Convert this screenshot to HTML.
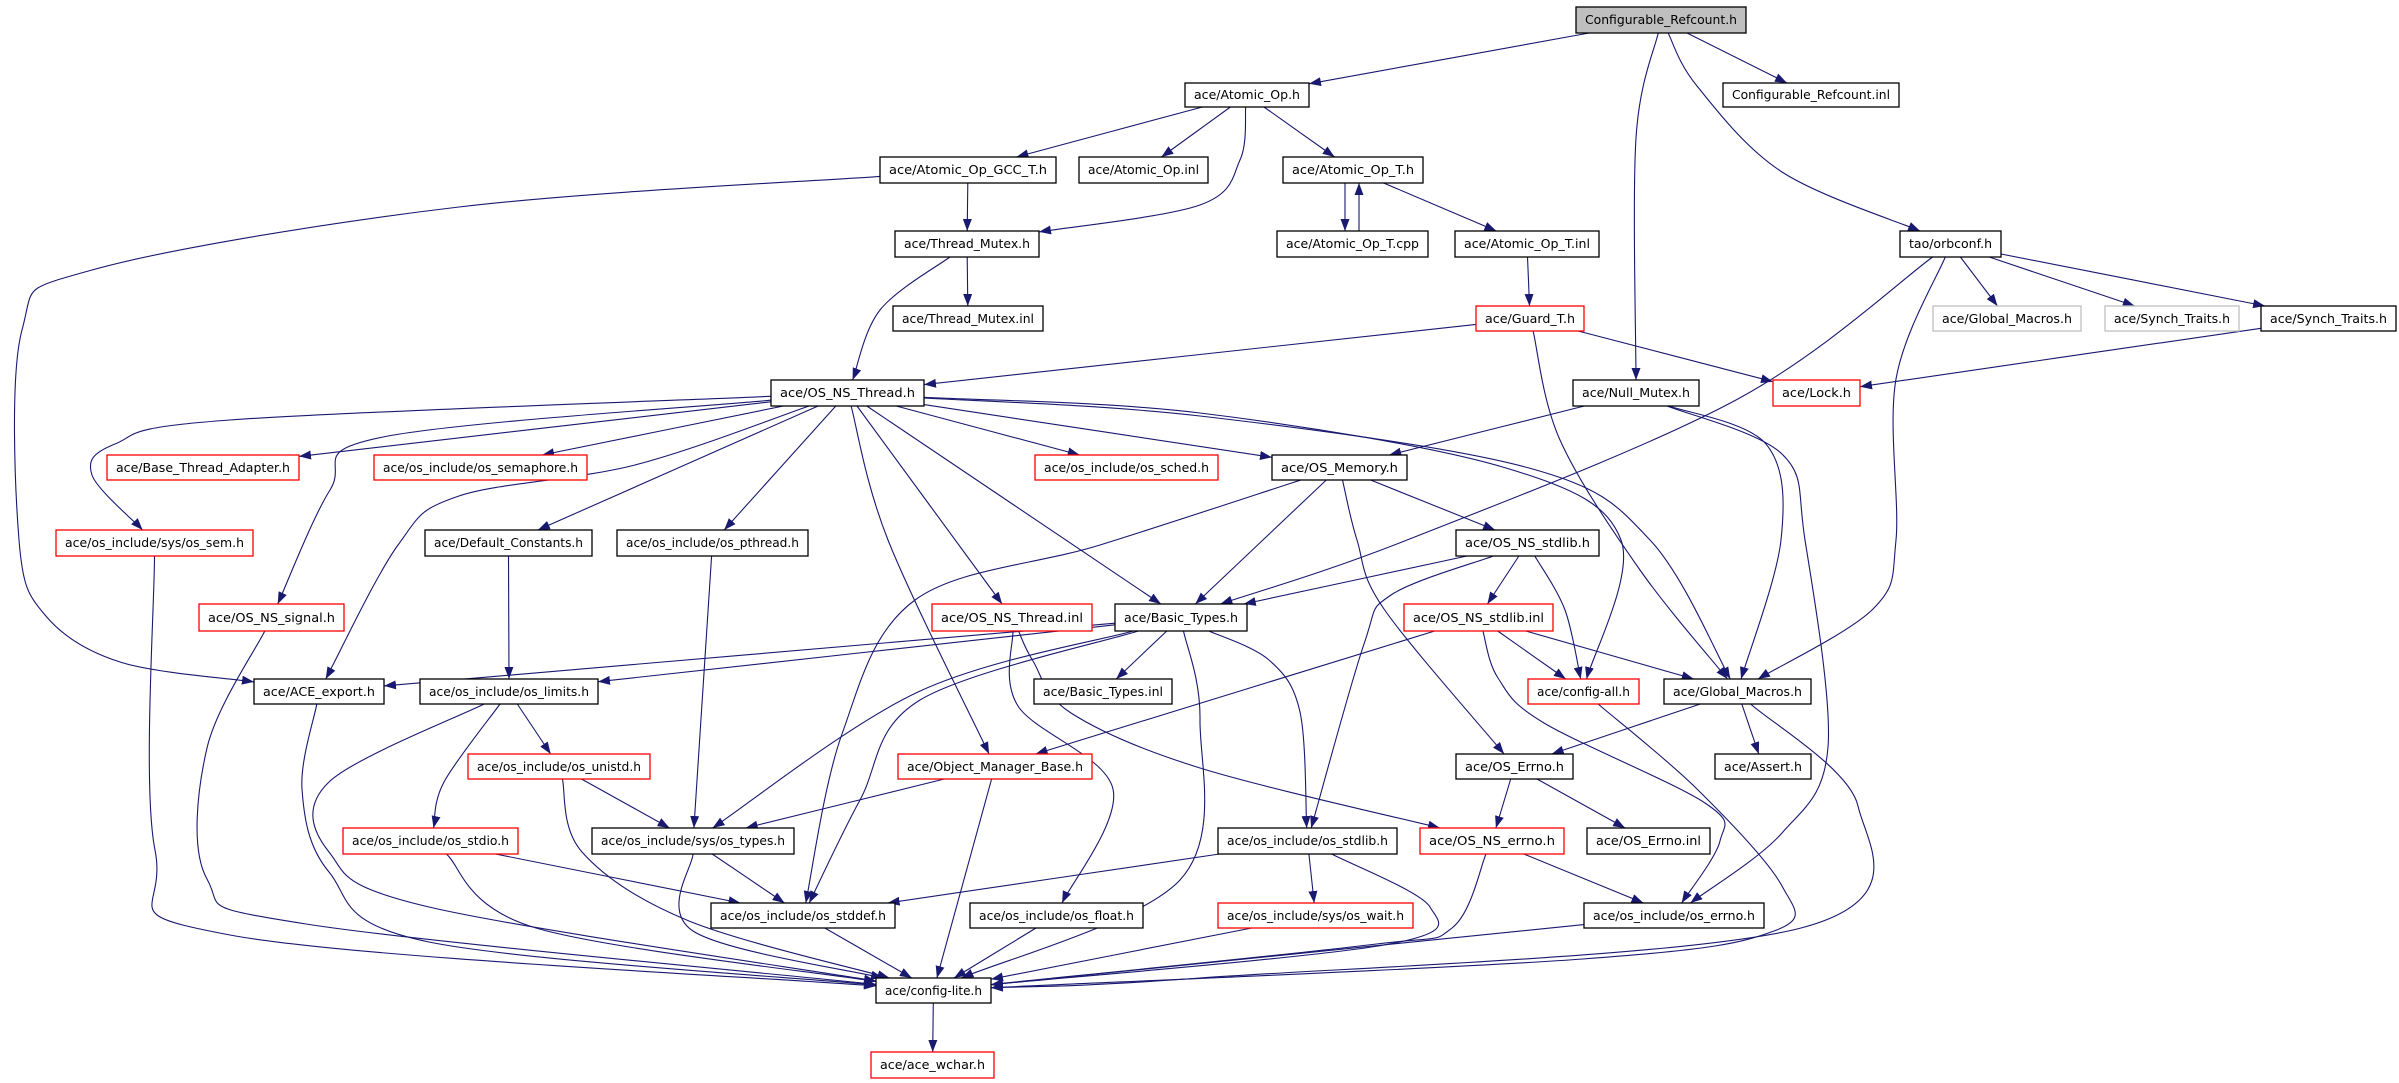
<!DOCTYPE html>
<html><head><meta charset="utf-8">
<style>
html,body{margin:0;padding:0;background:#fff;}
svg{display:block;}
text{font-family:"DejaVu Sans","Liberation Sans",sans-serif;font-size:12px;fill:#000;}
</style></head>
<body>
<svg id="g" width="2399" height="1083" viewBox="0 0 2399 1083" xmlns="http://www.w3.org/2000/svg">
<defs><marker id="a" markerWidth="12" markerHeight="9" refX="12" refY="4.5" orient="auto" markerUnits="userSpaceOnUse"><path d="M0,0 L12,4.5 L0,9 z" fill="#191970"/></marker></defs>
<g id="edges" fill="none" stroke="#191970" stroke-width="1.1"></g>
<g id="nodes" stroke-width="1.3">
<rect id="cr" x="1576" y="7" width="170" height="26" fill="#bfbfbf" stroke="#000"/><text x="1585" y="24" textLength="152" lengthAdjust="spacingAndGlyphs">Configurable_Refcount.h</text>
<rect id="aop" x="1185" y="83" width="124" height="24" fill="#fff" stroke="#000"/><text x="1194" y="99" textLength="106" lengthAdjust="spacingAndGlyphs">ace/Atomic_Op.h</text>
<rect id="cri" x="1723" y="83" width="176" height="24" fill="#fff" stroke="#000"/><text x="1732" y="99" textLength="158" lengthAdjust="spacingAndGlyphs">Configurable_Refcount.inl</text>
<rect id="gcc" x="880" y="157" width="176" height="26" fill="#fff" stroke="#000"/><text x="889" y="174" textLength="158" lengthAdjust="spacingAndGlyphs">ace/Atomic_Op_GCC_T.h</text>
<rect id="aopi" x="1079" y="157" width="129" height="26" fill="#fff" stroke="#000"/><text x="1088" y="174" textLength="111" lengthAdjust="spacingAndGlyphs">ace/Atomic_Op.inl</text>
<rect id="aopt" x="1283" y="157" width="140" height="26" fill="#fff" stroke="#000"/><text x="1292" y="174" textLength="122" lengthAdjust="spacingAndGlyphs">ace/Atomic_Op_T.h</text>
<rect id="tm" x="895" y="231" width="144" height="26" fill="#fff" stroke="#000"/><text x="904" y="248" textLength="126" lengthAdjust="spacingAndGlyphs">ace/Thread_Mutex.h</text>
<rect id="cpp" x="1277" y="231" width="151" height="26" fill="#fff" stroke="#000"/><text x="1286" y="248" textLength="133" lengthAdjust="spacingAndGlyphs">ace/Atomic_Op_T.cpp</text>
<rect id="tinl" x="1455" y="231" width="144" height="26" fill="#fff" stroke="#000"/><text x="1464" y="248" textLength="126" lengthAdjust="spacingAndGlyphs">ace/Atomic_Op_T.inl</text>
<rect id="orb" x="1900" y="231" width="101" height="26" fill="#fff" stroke="#000"/><text x="1909" y="248" textLength="83" lengthAdjust="spacingAndGlyphs">tao/orbconf.h</text>
<rect id="tmi" x="893" y="306" width="150" height="25" fill="#fff" stroke="#000"/><text x="902" y="323" textLength="132" lengthAdjust="spacingAndGlyphs">ace/Thread_Mutex.inl</text>
<rect id="guard" x="1476" y="306" width="108" height="25" fill="#fff" stroke="#f00"/><text x="1485" y="323" textLength="90" lengthAdjust="spacingAndGlyphs">ace/Guard_T.h</text>
<rect id="gmg" x="1933" y="306" width="148" height="25" fill="#fff" stroke="#bfbfbf"/><text x="1942" y="323" textLength="130" lengthAdjust="spacingAndGlyphs">ace/Global_Macros.h</text>
<rect id="stg" x="2105" y="306" width="134" height="25" fill="#fff" stroke="#bfbfbf"/><text x="2114" y="323" textLength="116" lengthAdjust="spacingAndGlyphs">ace/Synch_Traits.h</text>
<rect id="st" x="2261" y="306" width="135" height="25" fill="#fff" stroke="#000"/><text x="2270" y="323" textLength="117" lengthAdjust="spacingAndGlyphs">ace/Synch_Traits.h</text>
<rect id="ost" x="771" y="380" width="153" height="26" fill="#fff" stroke="#000"/><text x="780" y="397" textLength="135" lengthAdjust="spacingAndGlyphs">ace/OS_NS_Thread.h</text>
<rect id="nm" x="1573" y="380" width="126" height="26" fill="#fff" stroke="#000"/><text x="1582" y="397" textLength="108" lengthAdjust="spacingAndGlyphs">ace/Null_Mutex.h</text>
<rect id="lock" x="1773" y="380" width="87" height="26" fill="#fff" stroke="#f00"/><text x="1782" y="397" textLength="69" lengthAdjust="spacingAndGlyphs">ace/Lock.h</text>
<rect id="bta" x="107" y="455" width="192" height="25" fill="#fff" stroke="#f00"/><text x="116" y="472" textLength="174" lengthAdjust="spacingAndGlyphs">ace/Base_Thread_Adapter.h</text>
<rect id="sema" x="374" y="455" width="213" height="25" fill="#fff" stroke="#f00"/><text x="383" y="472" textLength="195" lengthAdjust="spacingAndGlyphs">ace/os_include/os_semaphore.h</text>
<rect id="sched" x="1035" y="455" width="183" height="25" fill="#fff" stroke="#f00"/><text x="1044" y="472" textLength="165" lengthAdjust="spacingAndGlyphs">ace/os_include/os_sched.h</text>
<rect id="mem" x="1272" y="455" width="135" height="25" fill="#fff" stroke="#000"/><text x="1281" y="472" textLength="117" lengthAdjust="spacingAndGlyphs">ace/OS_Memory.h</text>
<rect id="sem" x="56" y="530" width="197" height="26" fill="#fff" stroke="#f00"/><text x="65" y="547" textLength="179" lengthAdjust="spacingAndGlyphs">ace/os_include/sys/os_sem.h</text>
<rect id="dc" x="425" y="530" width="167" height="26" fill="#fff" stroke="#000"/><text x="434" y="547" textLength="149" lengthAdjust="spacingAndGlyphs">ace/Default_Constants.h</text>
<rect id="pth" x="617" y="530" width="191" height="26" fill="#fff" stroke="#000"/><text x="626" y="547" textLength="173" lengthAdjust="spacingAndGlyphs">ace/os_include/os_pthread.h</text>
<rect id="nsl" x="1456" y="530" width="143" height="26" fill="#fff" stroke="#000"/><text x="1465" y="547" textLength="125" lengthAdjust="spacingAndGlyphs">ace/OS_NS_stdlib.h</text>
<rect id="sig" x="199" y="604" width="145" height="27" fill="#fff" stroke="#f00"/><text x="208" y="622" textLength="127" lengthAdjust="spacingAndGlyphs">ace/OS_NS_signal.h</text>
<rect id="oti" x="932" y="604" width="160" height="27" fill="#fff" stroke="#f00"/><text x="941" y="622" textLength="142" lengthAdjust="spacingAndGlyphs">ace/OS_NS_Thread.inl</text>
<rect id="bt" x="1115" y="604" width="132" height="27" fill="#fff" stroke="#000"/><text x="1124" y="622" textLength="114" lengthAdjust="spacingAndGlyphs">ace/Basic_Types.h</text>
<rect id="nsli" x="1404" y="604" width="149" height="27" fill="#fff" stroke="#f00"/><text x="1413" y="622" textLength="131" lengthAdjust="spacingAndGlyphs">ace/OS_NS_stdlib.inl</text>
<rect id="ae" x="254" y="679" width="130" height="25" fill="#fff" stroke="#000"/><text x="263" y="696" textLength="112" lengthAdjust="spacingAndGlyphs">ace/ACE_export.h</text>
<rect id="lim" x="420" y="679" width="178" height="25" fill="#fff" stroke="#000"/><text x="429" y="696" textLength="160" lengthAdjust="spacingAndGlyphs">ace/os_include/os_limits.h</text>
<rect id="bti" x="1034" y="679" width="138" height="25" fill="#fff" stroke="#000"/><text x="1043" y="696" textLength="120" lengthAdjust="spacingAndGlyphs">ace/Basic_Types.inl</text>
<rect id="ca" x="1528" y="679" width="111" height="25" fill="#fff" stroke="#f00"/><text x="1537" y="696" textLength="93" lengthAdjust="spacingAndGlyphs">ace/config-all.h</text>
<rect id="gm" x="1664" y="679" width="147" height="25" fill="#fff" stroke="#000"/><text x="1673" y="696" textLength="129" lengthAdjust="spacingAndGlyphs">ace/Global_Macros.h</text>
<rect id="uni" x="468" y="754" width="182" height="25" fill="#fff" stroke="#f00"/><text x="477" y="771" textLength="164" lengthAdjust="spacingAndGlyphs">ace/os_include/os_unistd.h</text>
<rect id="omb" x="898" y="754" width="194" height="25" fill="#fff" stroke="#f00"/><text x="907" y="771" textLength="176" lengthAdjust="spacingAndGlyphs">ace/Object_Manager_Base.h</text>
<rect id="err" x="1456" y="754" width="117" height="25" fill="#fff" stroke="#000"/><text x="1465" y="771" textLength="99" lengthAdjust="spacingAndGlyphs">ace/OS_Errno.h</text>
<rect id="as" x="1715" y="754" width="96" height="25" fill="#fff" stroke="#000"/><text x="1724" y="771" textLength="78" lengthAdjust="spacingAndGlyphs">ace/Assert.h</text>
<rect id="stdio" x="343" y="828" width="175" height="26" fill="#fff" stroke="#f00"/><text x="352" y="845" textLength="157" lengthAdjust="spacingAndGlyphs">ace/os_include/os_stdio.h</text>
<rect id="typ" x="592" y="828" width="202" height="26" fill="#fff" stroke="#000"/><text x="601" y="845" textLength="184" lengthAdjust="spacingAndGlyphs">ace/os_include/sys/os_types.h</text>
<rect id="stdl" x="1218" y="828" width="179" height="26" fill="#fff" stroke="#000"/><text x="1227" y="845" textLength="161" lengthAdjust="spacingAndGlyphs">ace/os_include/os_stdlib.h</text>
<rect id="nse" x="1420" y="828" width="144" height="26" fill="#fff" stroke="#f00"/><text x="1429" y="845" textLength="126" lengthAdjust="spacingAndGlyphs">ace/OS_NS_errno.h</text>
<rect id="erri" x="1587" y="828" width="123" height="26" fill="#fff" stroke="#000"/><text x="1596" y="845" textLength="105" lengthAdjust="spacingAndGlyphs">ace/OS_Errno.inl</text>
<rect id="sdd" x="711" y="903" width="184" height="25" fill="#fff" stroke="#000"/><text x="720" y="920" textLength="166" lengthAdjust="spacingAndGlyphs">ace/os_include/os_stddef.h</text>
<rect id="flt" x="970" y="903" width="173" height="25" fill="#fff" stroke="#000"/><text x="979" y="920" textLength="155" lengthAdjust="spacingAndGlyphs">ace/os_include/os_float.h</text>
<rect id="wait" x="1218" y="903" width="195" height="25" fill="#fff" stroke="#f00"/><text x="1227" y="920" textLength="177" lengthAdjust="spacingAndGlyphs">ace/os_include/sys/os_wait.h</text>
<rect id="oer" x="1584" y="903" width="180" height="25" fill="#fff" stroke="#000"/><text x="1593" y="920" textLength="162" lengthAdjust="spacingAndGlyphs">ace/os_include/os_errno.h</text>
<rect id="cl" x="876" y="978" width="115" height="25" fill="#fff" stroke="#000"/><text x="885" y="995" textLength="97" lengthAdjust="spacingAndGlyphs">ace/config-lite.h</text>
<rect id="wch" x="871" y="1052" width="123" height="26" fill="#fff" stroke="#f00"/><text x="880" y="1069" textLength="105" lengthAdjust="spacingAndGlyphs">ace/ace_wchar.h</text>
</g>
</svg>
<script>
(function(){
var E=[
['cr','aop'],['cr','cri'],['cr','nm',[[1636,138]]],['cr','orb',[[1697,86],[1782,172]]],
['aop','gcc'],['aop','aopi'],['aop','aopt'],['aop','tm',[[1240,160],[1200,205]]],
['gcc','tm'],['gcc','ae',[[459,207],[92,270],[22,330],[19,540],[45,615],[120,662]]],
['aopt','cpp',null,[1345,183],[1345,231]],['cpp','aopt',null,[1359,231],[1359,183]],
['aopt','tinl'],['tinl','guard'],['tm','tmi'],['tm','ost',[[880,310]]],
['guard','ost'],['guard','lock'],['guard','gm',[[1560,440],[1640,570]]],
['orb','gmg'],['orb','stg'],['orb','st'],['orb','bt',[[1736,400],[1407,540]]],['orb','gm',[[1896,379],[1896,540],[1873,609]]],
['st','lock'],
['nm','mem'],['nm','gm',[[1766,444],[1781,540]]],['nm','oer',[[1782,454],[1805,540],[1828,747],[1782,833]]],
['ost','bta'],['ost','sema'],['ost','sched'],['ost','mem'],['ost','sem',[[230,420],[115,444],[92,475]]],['ost','sig',[[383,437],[330,490]]],['ost','ae',[[635,465],[459,496],[398,545]]],['ost','dc'],['ost','pth'],['ost','oti'],['ost','omb',[[888,540]]],['ost','bt'],['ost','ca',[[1200,413],[1506,468],[1621,540]]],['ost','gm',[[1200,416],[1529,468],[1650,540]]],
['mem','bt'],['mem','nsl'],['mem','err',[[1357,540],[1384,609]]],['mem','sdd',[[1100,545],[915,600],[842,734]]],
['nsl','bt'],['nsl','nsli'],['nsl','ca',[[1565,610]]],['nsl','stdl',[[1391,595],[1364,644]]],
['nsli','ca'],['nsli','gm'],['nsli','omb'],['nsli','oer',[[1498,678],[1544,723],[1705,803],[1720,841]]],
['bt','ae'],['bt','lim'],['bt','bti'],['bt','typ',[[918,692]]],['bt','sdd',[[920,700],[860,800]]],['bt','stdl',[[1269,660],[1300,712]]],['bt','cl',[[1200,720],[1180,880]]],
['oti','flt',[[1018,706],[1113,789]]],['oti','nse',[[1033,661],[1071,713],[1200,768]]],
['sem','cl',[[155,850],[230,935]]],['sig','cl',[[207,748],[207,879],[306,924]]],['ae','cl',[[302,789],[329,872],[429,942]]],
['lim','cl',[[329,782],[329,852],[429,907]]],['lim','uni'],['lim','stdio',[[444,782]]],
['dc','lim'],['pth','typ'],['uni','typ'],['uni','cl',[[582,852],[689,921]]],['omb','typ'],['omb','cl'],
['stdio','sdd'],['stdio','cl',[[536,928]]],['typ','sdd'],['typ','cl',[[693,931]]],['sdd','cl'],['flt','cl'],['cl','wch'],
['gm','err'],['gm','as'],['gm','cl',[[1858,806],[1801,928],[1200,978]]],
['err','nse'],['err','erri'],['nse','oer'],['nse','cl',[[1452,928],[1368,945]]],
['stdl','sdd'],['stdl','wait'],['stdl','cl',[[1430,907],[1384,945]]],['wait','cl'],['oer','cl'],['ca','cl',[[1697,789],[1782,886],[1774,931],[1583,959]]]
];
function box(id){var r=document.getElementById(id);var x=+r.getAttribute('x'),y=+r.getAttribute('y'),w=+r.getAttribute('width'),h=+r.getAttribute('height');return {cx:x+w/2,cy:y+h/2,hw:w/2,hh:h/2};}
function clip(b,p){var dx=p[0]-b.cx,dy=p[1]-b.cy;var t=Math.min(dx?b.hw/Math.abs(dx):1e9,dy?b.hh/Math.abs(dy):1e9);if(t>1)t=1;return [b.cx+dx*t,b.cy+dy*t];}
var g=document.getElementById('edges'),ns='http://www.w3.org/2000/svg';
E.forEach(function(e){
 var s=box(e[0]),t=box(e[1]),v=e[2]||[];
 var first=v.length?v[0]:[t.cx,t.cy],last=v.length?v[v.length-1]:[s.cx,s.cy];
 var a=e[3]||clip(s,first),b=e[4]||clip(t,last);
 var P=[a].concat(v,[b]);
 var d='M'+P[0][0].toFixed(1)+','+P[0][1].toFixed(1);
 for(var i=0;i<P.length-1;i++){
  var p0=P[i-1]||P[i],p1=P[i],p2=P[i+1],p3=P[i+2]||P[i+1];
  var c1=[p1[0]+(p2[0]-p0[0])/6,p1[1]+(p2[1]-p0[1])/6],c2=[p2[0]-(p3[0]-p1[0])/6,p2[1]-(p3[1]-p1[1])/6];
  d+=' C'+c1[0].toFixed(1)+','+c1[1].toFixed(1)+' '+c2[0].toFixed(1)+','+c2[1].toFixed(1)+' '+p2[0].toFixed(1)+','+p2[1].toFixed(1);
 }
 var p=document.createElementNS(ns,'path');p.setAttribute('d',d);p.setAttribute('marker-end','url(#a)');g.appendChild(p);
});
})();
</script>
</body></html>
